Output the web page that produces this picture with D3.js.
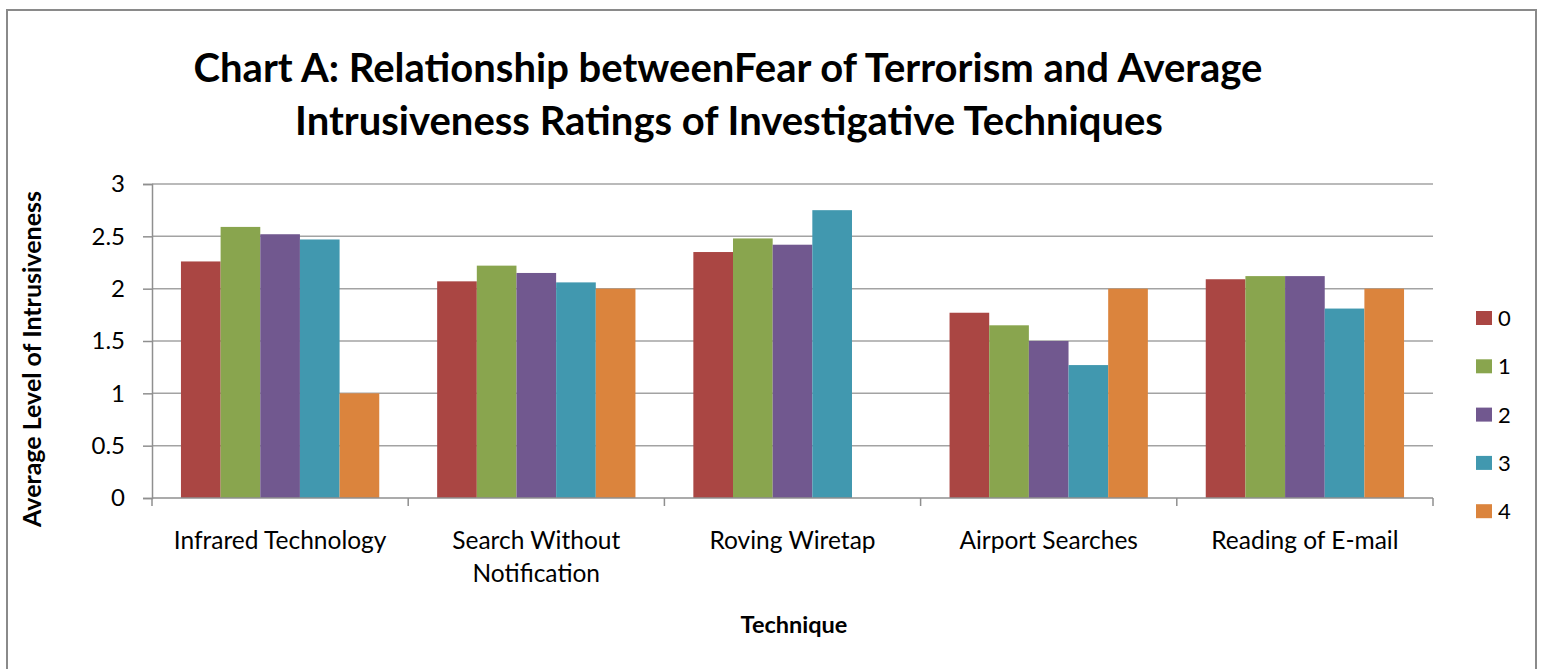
<!DOCTYPE html>
<html><head><meta charset="utf-8">
<script src="https://cdn.jsdelivr.net/npm/d3@7"></script>
<style>body{margin:0;background:#fff}svg{display:block}text{font-family:Lato,"Open Sans",sans-serif;fill:#000}</style>
</head><body>
<svg id="c" width="1541" height="669"></svg>
<script>
const categories = ["Infrared Technology","Search Without Notification","Roving Wiretap","Airport Searches","Reading of E-mail"];
const categoryLabels = [["Infrared Technology"],["Search Without","Notification"],["Roving Wiretap"],["Airport Searches"],["Reading of E-mail"]];
const seriesNames = ["0","1","2","3","4"];
const series0 = [2.26, 2.07, 2.35, 1.77, 2.09];
const series1 = [2.59, 2.22, 2.48, 1.65, 2.12];
const series2 = [2.52, 2.15, 2.42, 1.50, 2.12];
const series3 = [2.47, 2.06, 2.75, 1.27, 1.81];
const series4 = [1.00, 2.00, null, 2.00, 2.00];
const yTicks = [0, 0.5, 1, 1.5, 2, 2.5, 3];
const colors = ["#AA4643","#89A54E","#71588F","#4198AF","#DB843D"];
const titleLines = ["Chart A: Relationship betweenFear of Terrorism and Average","Intrusiveness Ratings of Investigative Techniques"];
const yTitle = "Average Level of Intrusiveness";
const xTitle = "Technique";

(function(){
const allSeries = [series0, series1, series2, series3, series4];
const svg = d3.select("#c");
svg.append("rect").attr("width",1541).attr("height",669).attr("fill","#fff");
svg.append("rect").attr("x",7).attr("y",10).attr("width",1529).attr("height",720)
  .attr("fill","none").attr("stroke","#8a8a8a").attr("stroke-width",2);

const pl = 152, pr = 1433, pt = 184, pb = 498;
const y = d3.scaleLinear().domain([0,3]).range([pb, pt]);
const x0 = d3.scaleBand().domain(categories).range([pl, pr]).padding(0);
const x1 = d3.scaleBand().domain(seriesNames).range([0, x0.bandwidth()]).paddingInner(0).paddingOuter(0.73);

svg.append("g").selectAll("line").data(yTicks.filter(d=>d>0)).join("line")
  .attr("x1", pl).attr("x2", pr).attr("y1", d=>y(d)).attr("y2", d=>y(d))
  .attr("stroke","#a3a3a3").attr("stroke-width",1.5);

const data = [];
categories.forEach((c,i)=>seriesNames.forEach((s,j)=>{
  const v = allSeries[j][i];
  if (v != null) data.push({c, s, v, j});
}));
svg.append("g").selectAll("rect").data(data).join("rect")
  .attr("x", d=>x0(d.c)+x1(d.s)).attr("width", x1.bandwidth())
  .attr("y", d=>y(d.v)).attr("height", d=>y(0)-y(d.v))
  .attr("fill", d=>colors[d.j]);

const yAxis = svg.append("g").attr("transform",`translate(${pl},0)`)
  .call(d3.axisLeft(y).tickValues(yTicks).tickFormat(d3.format("")).tickSize(9).tickPadding(18));
yAxis.select(".domain").attr("stroke","#8f8f8f").attr("stroke-width",1.5);
yAxis.selectAll(".tick line").attr("stroke","#8f8f8f").attr("stroke-width",1.5);
yAxis.selectAll(".tick text").attr("font-size",24).attr("font-family","Lato").attr("fill","#000");

const xAxis = svg.append("g").attr("transform",`translate(0,${pb})`);
xAxis.append("line").attr("x1",pl).attr("x2",pr).attr("stroke","#8f8f8f").attr("stroke-width",1.5);
const bounds = categories.map(c=>x0(c)).concat([pr]);
xAxis.selectAll("line.t").data(bounds).join("line").attr("class","t")
  .attr("x1",d=>d).attr("x2",d=>d).attr("y1",0).attr("y2",8)
  .attr("stroke","#8f8f8f").attr("stroke-width",1.5);
categories.forEach((c,i)=>{
  const t = xAxis.append("text").attr("text-anchor","middle").attr("font-size",24.5)
    .attr("x", x0(c)+x0.bandwidth()/2).attr("y", 51);
  categoryLabels[i].forEach((l,k)=>t.append("tspan").attr("x", x0(c)+x0.bandwidth()/2).attr("dy", k?33:0).text(l));
});

svg.append("text").attr("transform","translate(41,359) rotate(-90)").attr("text-anchor","middle")
  .attr("font-size",25).attr("font-weight","bold").text(yTitle);
svg.append("text").attr("x",794).attr("y",633).attr("text-anchor","middle")
  .attr("font-size",23.5).attr("font-weight","bold").text(xTitle);

const tg = svg.append("g");
const t1 = tg.append("text").attr("x",728).attr("y",82).attr("text-anchor","middle")
  .attr("font-weight","bold").attr("font-size",36).text(titleLines[0]);
const w = t1.node().getComputedTextLength();
const fs = 36*1069/w;
t1.attr("font-size",fs);
tg.append("text").attr("x",729).attr("y",135).attr("text-anchor","middle")
  .attr("font-weight","bold").attr("font-size",fs).text(titleLines[1]);

const lg = svg.append("g").selectAll("g").data(seriesNames).join("g")
  .attr("transform",(d,i)=>`translate(1476,${318+i*48.3})`);
lg.append("rect").attr("x",0).attr("y",-7).attr("width",16).attr("height",14).attr("fill",(d,i)=>colors[i]);
lg.append("text").attr("x",22).attr("y",0).attr("dy","0.36em").attr("font-size",22).text(d=>d);
})();
</script>
</body></html>
